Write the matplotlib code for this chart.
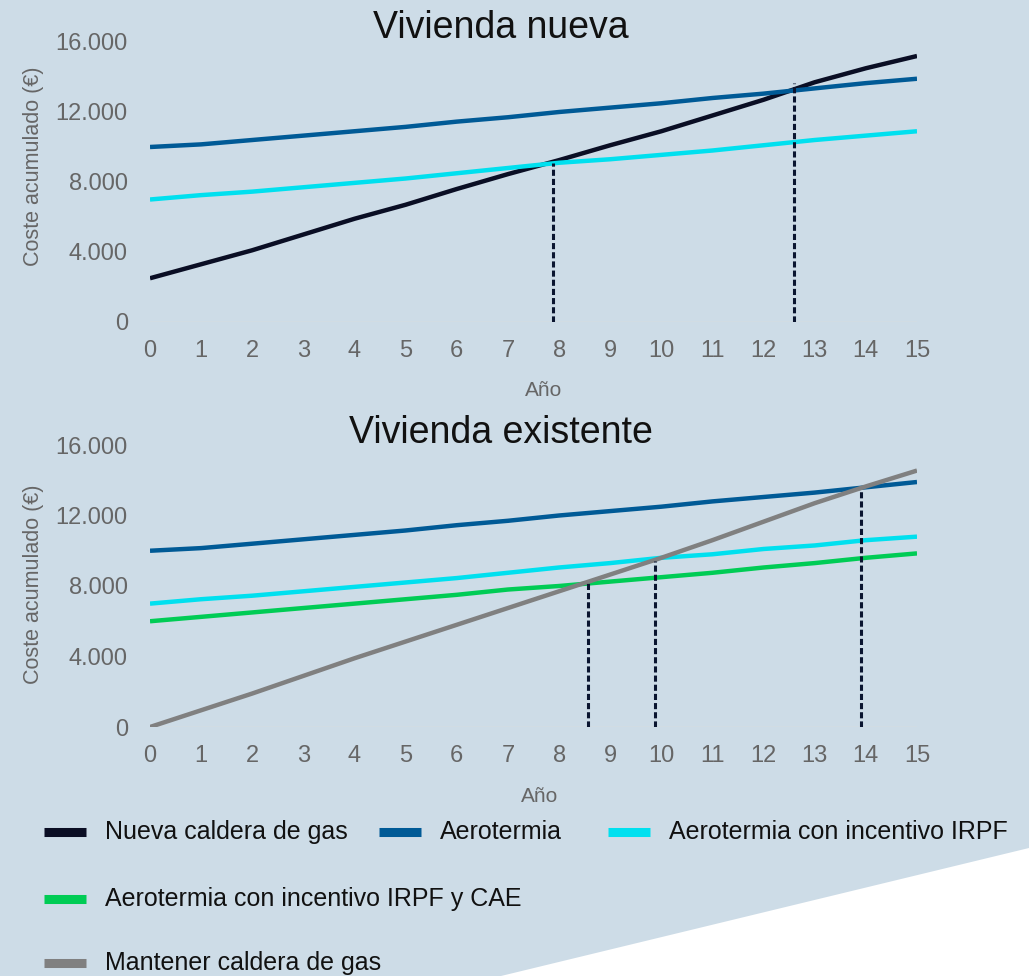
import matplotlib
matplotlib.use('Agg')
import matplotlib.pyplot as plt
from matplotlib.lines import Line2D
from matplotlib.patches import Polygon
from matplotlib.ticker import FuncFormatter

plt.rcParams['font.family'] = ['Liberation Sans', 'DejaVu Sans']

years = list(range(16))

# Vivienda nueva (coste acumulado, EUR)
nueva_gas = [2500, 3300, 4100, 5000, 5900, 6700, 7600, 8450, 9250, 10100,
             10900, 11800, 12700, 13700, 14500, 15200]
nueva_aero = [10000, 10150, 10400, 10650, 10900, 11150, 11450, 11700, 12000, 12250,
              12500, 12800, 13050, 13350, 13650, 13900]
nueva_aero_irpf = [7000, 7250, 7450, 7700, 7950, 8200, 8500, 8800, 9100, 9300,
                   9550, 9800, 10100, 10400, 10650, 10900]
nueva_cortes_x = [7.88, 12.6]
nueva_cortes_y = [9100, 13650]

# Vivienda existente
exist_aero = [10000, 10150, 10400, 10650, 10900, 11150, 11450, 11700, 12000, 12250,
              12500, 12800, 13050, 13300, 13600, 13900]
exist_aero_irpf = [7000, 7250, 7450, 7700, 7950, 8200, 8450, 8750, 9050, 9300,
                   9600, 9800, 10100, 10300, 10600, 10800]
exist_aero_cae = [6000, 6250, 6500, 6750, 7000, 7250, 7500, 7800, 8000, 8250,
                  8500, 8750, 9050, 9300, 9600, 9850]
exist_mantener = [0, 950, 1900, 2900, 3900, 4850, 5800, 6750, 7700, 8650,
                  9600, 10600, 11650, 12700, 13650, 14550]
exist_cortes_x = [8.57, 9.87, 13.9]
exist_cortes_y = [8150, 9400, 13450]

yticks = [0, 4000, 8000, 12000, 16000]

labels = ['Nueva caldera de gas', 'Aerotermia', 'Aerotermia con incentivo IRPF',
          'Aerotermia con incentivo IRPF y CAE', 'Mantener caldera de gas']
colors = ['#0a0e24', '#005a96', '#00e0ef', '#00cc55', '#808080']

bg = '#cddce7'
grey = '#666666'

fig = plt.figure(figsize=(10.29, 9.76), dpi=100)
fig.patch.set_facecolor(bg)
fig.patches.append(Polygon([(1, 1 - 848 / 976), (1, 0), (501 / 1029, 0)],
                           closed=True, transform=fig.transFigure,
                           facecolor='white', edgecolor='none', zorder=0))


def style_axes(ax):
    ax.set_facecolor('none')
    for s in ax.spines.values():
        s.set_visible(False)
    ax.set_xlim(0, 15)
    ax.set_ylim(0, 16000)
    ax.set_xticks(years)
    ax.set_yticks(yticks)
    ax.yaxis.set_major_formatter(FuncFormatter(lambda v, p: f'{int(v):,}'.replace(',', '.')))
    ax.tick_params(axis='both', length=0, labelsize=17, labelcolor=grey)
    ax.tick_params(axis='x', pad=13)
    ax.tick_params(axis='y', pad=16)
    ax.axhline(0, color='#e4ded4', lw=1, zorder=1)


ax1 = fig.add_axes([150 / 1029, 1 - 322 / 976, 767 / 1029, 280 / 976])
ax2 = fig.add_axes([150 / 1029, 1 - 727 / 976, 767 / 1029, 282 / 976])
style_axes(ax1)
style_axes(ax2)

lw = 3.2
for vals, c in zip([nueva_gas, nueva_aero, nueva_aero_irpf], colors[:3]):
    ax1.plot(years, vals, color=c, lw=lw, solid_capstyle='butt', zorder=3)
ax1.vlines(nueva_cortes_x, 0, nueva_cortes_y, colors='#0a1530', lw=2.2,
           linestyles=(0, (2, 1)), zorder=4)

for vals, c in zip([exist_aero, exist_aero_irpf, exist_aero_cae, exist_mantener], colors[1:]):
    ax2.plot(years, vals, color=c, lw=lw, solid_capstyle='butt', zorder=3)
ax2.vlines(exist_cortes_x, 0, exist_cortes_y, colors='#0a1530', lw=2.2,
           linestyles=(0, (2, 1)), zorder=4)

# titles and axis labels
fig.text(501 / 1029, 1 - 38 / 976, 'Vivienda nueva', ha='center', va='baseline',
         fontsize=27, color='#111111')
fig.text(501 / 1029, 1 - 443 / 976, 'Vivienda existente', ha='center', va='baseline',
         fontsize=27, color='#111111')
fig.text(34 / 1029, 1 - 166 / 976, 'Coste acumulado (€)', rotation=90, ha='center',
         va='center', fontsize=15.5, color=grey)
fig.text(34 / 1029, 1 - 584 / 976, 'Coste acumulado (€)', rotation=90, ha='center',
         va='center', fontsize=15.5, color=grey)
fig.text(544 / 1029, 1 - 390 / 976, 'Año', ha='center', va='center', fontsize=15, color=grey)
fig.text(540 / 1029, 1 - 797 / 976, 'Año', ha='center', va='center', fontsize=15, color=grey)

# legend, laid out by hand: three entries on the first row, then one per row
legend_pos = [(44, 832), (379, 832), (608, 832), (44, 899), (44, 963)]
for (x, y), lab, c in zip(legend_pos, labels, colors):
    fy = 1 - y / 976
    fig.add_artist(Line2D([x / 1029, (x + 42) / 1029], [fy, fy], color=c, lw=6.5,
                          solid_capstyle='butt', transform=fig.transFigure))
    fig.text((x + 61) / 1029, fy, lab, ha='left', va='center', fontsize=18, color='#111111')

fig.savefig('out.png', dpi=100, facecolor=fig.get_facecolor())
